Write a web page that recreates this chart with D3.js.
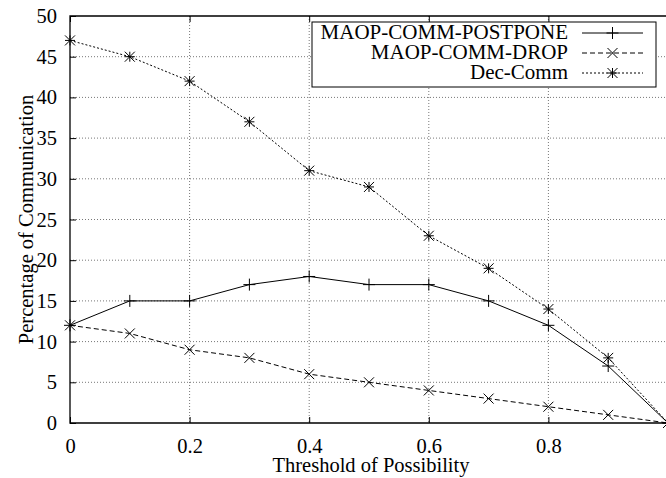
<!DOCTYPE html>
<html><head><meta charset="utf-8">
<script src="https://cdn.jsdelivr.net/npm/d3@7"></script>
<style>body{margin:0;background:#fff}svg{display:block}</style>
</head><body>
<svg id="c" width="666" height="478"></svg>
<script>
const xs = [0,0.1,0.2,0.3,0.4,0.5,0.6,0.7,0.8,0.9,1.0];
const postpone = [12,15,15,17,18,17,17,15,12,7,0];
const drop = [12,11,9,8,6,5,4,3,2,1,0];
const decComm = [47,45,42,37,31,29,23,19,14,8,0];
const seriesNames = ["MAOP-COMM-POSTPONE","MAOP-COMM-DROP","Dec-Comm"];
const xTicks = [0,0.2,0.4,0.6,0.8];
const xTickLabels = ["0","0.2","0.4","0.6","0.8"];
const yTicks = [0,5,10,15,20,25,30,35,40,45,50];

const FONT = '"Liberation Serif"';
const svg = d3.select("#c");
const L=70,R=668,T=16,B=423;
const x = d3.scaleLinear().domain([0,1]).range([L,R]);
const y = d3.scaleLinear().domain([0,50]).range([B,T]);

// grid
const g = svg.append("g");
xTicks.filter(d=>d>0).forEach(d=>{
  g.append("line").attr("x1",x(d)).attr("x2",x(d)).attr("y1",T).attr("y2",B)
   .attr("stroke","#777").attr("stroke-width",1).attr("stroke-dasharray","1,2");
});
yTicks.filter(d=>d>0&&d<50).forEach(d=>{
  g.append("line").attr("x1",L).attr("x2",R).attr("y1",y(d)).attr("y2",y(d))
   .attr("stroke","#777").attr("stroke-width",1).attr("stroke-dasharray","1,2");
});

// axes
const ax = svg.append("g").attr("transform",`translate(0,${B})`)
  .call(d3.axisBottom(x).tickValues(xTicks).tickFormat((d,i)=>xTickLabels[i]).tickSize(-6).tickPadding(15));
const ay = svg.append("g").attr("transform",`translate(${L},0)`)
  .call(d3.axisLeft(y).tickValues(yTicks).tickSize(-6).tickPadding(13));
const axTop = svg.append("g").attr("transform",`translate(0,${T})`)
  .call(d3.axisTop(x).tickValues(xTicks).tickFormat("").tickSize(-6));
[ax,ay,axTop].forEach(a=>{
  a.attr("font-family",null).attr("font-size",null);
  a.selectAll(".domain").remove();
  a.selectAll("line").attr("stroke","#000");
  a.selectAll("text").style("font-size","20.5px").style("font-family",FONT).attr("fill","#000");
});
// border
svg.append("path").attr("d",`M${R},${T}H${L}V${B}H${R}`).attr("fill","none").attr("stroke","#000").attr("stroke-width",1.3);

// series
const styles = [
  {data:postpone, dash:null, marker:"plus"},
  {data:drop, dash:"5,3", marker:"cross"},
  {data:decComm, dash:"2,2", marker:"star"}
];
const line = d3.line().x((d,i)=>x(xs[i])).y(d=>y(d));
function marker(sel, type, cx, cy, s){
  const p = d3.path();
  if(type==="plus"||type==="star"){p.moveTo(cx-s,cy);p.lineTo(cx+s,cy);p.moveTo(cx,cy-s);p.lineTo(cx,cy+s);}
  if(type==="cross"||type==="star"){p.moveTo(cx-s,cy-s);p.lineTo(cx+s,cy+s);p.moveTo(cx-s,cy+s);p.lineTo(cx+s,cy-s);}
  sel.append("path").attr("d",p.toString()).attr("stroke","#000").attr("stroke-width",1).attr("fill","none");
}
styles.forEach(s=>{
  svg.append("path").datum(s.data).attr("d",line).attr("fill","none").attr("stroke","#000")
    .attr("stroke-width",1).attr("stroke-dasharray",s.dash);
  s.data.forEach((v,i)=>marker(svg,s.marker,x(xs[i]),y(v),s.marker==="plus"?6:5));
});

// legend
const lg = svg.append("g");
lg.append("rect").attr("x",312).attr("y",22).attr("width",344).attr("height",65)
  .attr("fill","#fff").attr("stroke","#000").attr("stroke-width",1);
seriesNames.forEach((n,i)=>{
  const cy = 33+i*20;
  lg.append("text").attr("x",568).attr("y",cy+6).attr("text-anchor","end")
    .style("font-family",FONT).style("font-size","21px").attr("fill","#000").text(n);
  lg.append("line").attr("x1",582).attr("x2",643).attr("y1",cy).attr("y2",cy).attr("stroke","#000")
    .attr("stroke-width",1).attr("stroke-dasharray",styles[i].dash);
  marker(lg,styles[i].marker,612.5,cy,styles[i].marker==="plus"?6:5);
});

// titles
svg.append("text").attr("x",371).attr("y",472).attr("text-anchor","middle")
  .style("font-family",FONT).style("font-size","20.5px").attr("fill","#000").text("Threshold of Possibility");
svg.append("text").attr("transform",`translate(33,${(T+B)/2}) rotate(-90)`).attr("text-anchor","middle")
  .style("font-family",FONT).style("font-size","20.5px").attr("fill","#000").text("Percentage of Communication");
</script>
</body></html>
